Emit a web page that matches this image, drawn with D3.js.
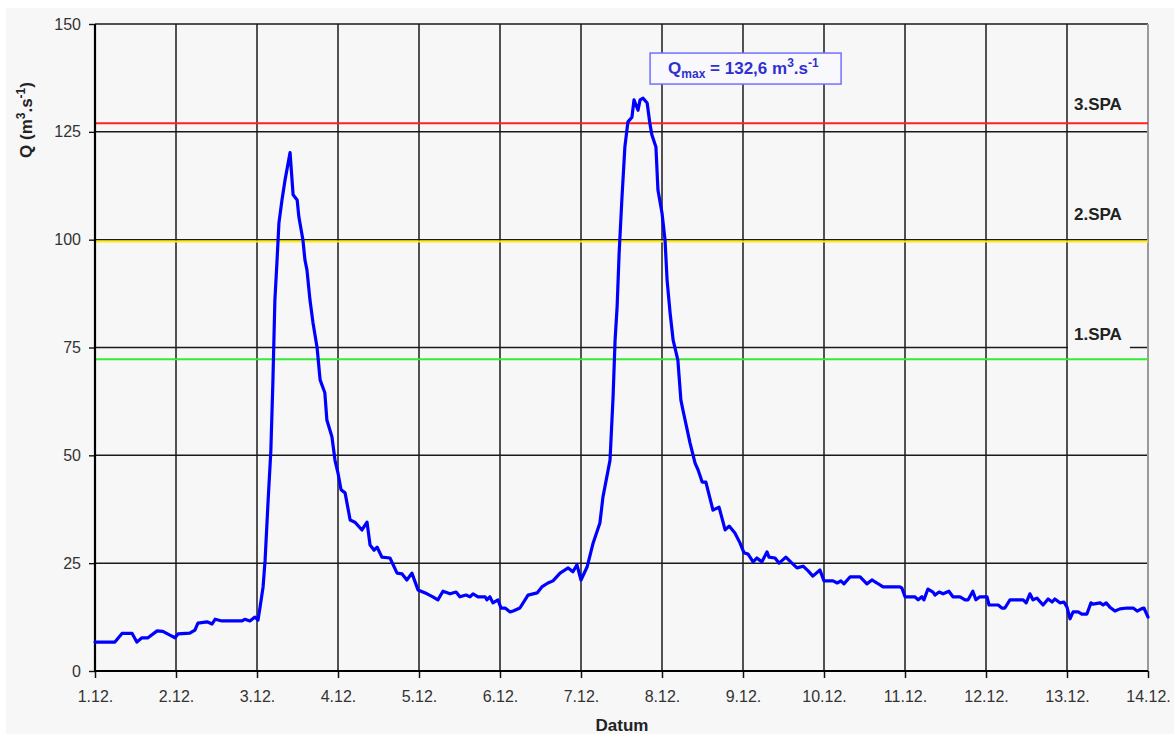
<!DOCTYPE html>
<html><head><meta charset="utf-8">
<script src="https://cdn.jsdelivr.net/npm/d3@7"></script>
<style>
html,body{margin:0;padding:0;background:#fff;}
svg{display:block;font-family:"Liberation Sans",Arial,sans-serif;}
</style></head><body>
<svg id="c" width="1174" height="734"></svg>
<script>
// ---- data ----
const dayLabels = ["1.12.","2.12.","3.12.","4.12.","5.12.","6.12.","7.12.","8.12.","9.12.","10.12.","11.12.","12.12.","13.12.","14.12."];
const yTicks = [0,25,50,75,100,125,150];
// hours since 1.12. 00:00
const hours = [0,5.9,8.0,11.0,12.4,13.9,15.7,18.4,20.1,22.2,23.7,24.6,28.1,29.6,30.5,33.2,34.7,35.6,37.6,39.4,43.6,44.4,45.9,47.4,48.3,48.9,49.8,50.4,51.3,52.1,52.7,53.3,53.9,54.5,55.4,56.3,57.8,58.7,59.9,60.4,61.6,62.2,62.8,63.7,64.6,65.8,66.7,68.1,68.7,70.2,71.1,72.0,72.9,74.1,75.6,77.0,79.1,80.6,81.5,82.7,83.6,85.0,87.4,89.5,91.0,92.4,93.9,95.7,98.4,100.1,101.6,103.1,105.2,107.0,108.1,109.9,111.1,112.0,113.5,115.6,116.1,117.0,117.9,119.4,120.3,121.5,123.0,123.9,125.9,128.3,131.0,132.4,134.2,135.7,137.8,140.2,141.6,142.8,144.0,145.8,147.6,149.6,150.5,152.6,153.5,154.1,154.7,155.3,156.1,157.0,157.9,159.1,159.7,160.9,161.5,162.4,163.6,164.4,165.0,166.2,166.8,168.0,168.9,169.5,170.4,171.3,172.7,173.6,174.2,176.3,177.8,178.7,179.9,181.0,183.1,184.9,186.7,187.9,189.6,191.1,192.3,193.5,195.0,196.1,197.6,199.1,199.7,201.5,202.7,204.7,206.5,208.0,209.8,211.3,212.7,214.8,216.0,218.7,219.9,221.0,221.9,223.7,226.7,228.7,230.2,231.7,233.5,238.5,239.1,240.0,242.9,243.9,245.0,245.6,246.8,248.3,248.9,250.1,251.3,253.0,254.2,256.3,257.8,258.7,260.1,261.0,262.2,264.3,264.9,267.6,268.7,269.6,271.1,275.0,275.9,277.0,277.9,279.1,280.9,282.4,283.6,284.4,285.9,287.1,288.0,288.9,289.8,291.3,292.4,293.9,295.1,295.7,297.8,298.7,299.6,300.7,302.2,303.7,305.8,307.6,308.8,310.0,310.8,312.0];
const discharge = [6.7,6.7,8.7,8.7,6.7,7.7,7.7,9.3,9.2,8.3,7.7,8.6,8.8,9.5,11.1,11.4,10.9,12.0,11.6,11.6,11.6,12.0,11.6,12.5,11.8,14.8,19.5,25.7,39.6,51.0,66.8,86.0,94.6,103.9,109.2,113.8,120.2,110.4,109.2,105.3,100.0,95.3,93.0,86.0,80.7,75.0,67.5,64.5,58.2,54.3,48.9,45.9,42.0,41.3,35.0,34.5,32.7,34.5,29.2,28.0,28.7,26.4,26.2,22.7,22.5,21.1,22.7,18.8,17.9,17.2,16.5,18.5,17.9,18.3,17.2,17.6,17.2,17.9,17.2,17.2,16.5,17.2,15.8,16.5,14.6,14.6,13.7,13.9,14.6,17.6,18.1,19.5,20.4,20.9,22.7,23.9,23.0,24.6,21.1,24.1,29.7,34.3,40.3,48.9,63.5,76.7,84.4,96.9,109.2,121.5,127.3,128.4,132.4,130.0,132.4,132.8,131.7,127.0,124.3,121.5,111.5,106.2,99.9,90.7,83.0,76.7,72.1,62.8,60.5,52.9,48.2,46.6,43.8,43.8,37.3,38.0,32.7,33.6,32.0,29.7,27.4,27.1,25.3,26.2,25.3,27.6,26.4,26.2,25.0,26.4,25.0,23.9,24.3,23.2,22.0,23.4,20.9,20.9,20.4,20.9,20.2,21.8,21.8,20.2,21.1,20.4,19.5,19.5,19.2,17.2,17.2,16.5,17.2,16.5,19.0,18.3,17.6,18.3,17.9,18.5,17.2,17.2,16.5,16.5,18.5,16.5,17.2,17.2,15.3,15.3,14.6,14.6,16.5,16.5,15.8,17.9,16.5,16.9,15.3,16.7,16.0,16.7,15.8,16.0,14.8,12.1,13.7,13.7,13.2,13.2,15.8,15.5,15.8,15.3,15.8,14.8,13.9,14.4,14.6,14.6,13.9,14.4,14.6,12.5];
const spaNames = ["1.SPA","2.SPA","3.SPA"];
const spaLevels = [72.3, 99.6, 127.0];
const spaLabelLevels = [76.8, 104.6, 130.1];
const spaColors = ["#33ee33","#ffee00","#ff2222"];
const qMax = 132.6;
const qMaxHour = 162.4;

// ---- chart ----
const svg = d3.select("#c");
const W = 1174, H = 734;
const L = 95, R = 1148, T = 24, B = 671;

svg.append("rect").attr("x",0).attr("y",0).attr("width",W).attr("height",H).attr("fill","#ffffff");
svg.append("rect").attr("x",6).attr("y",8).attr("width",W-6).attr("height",H-8).attr("fill","#f7f7f7");

const x = d3.scaleLinear().domain([0, 24*(dayLabels.length-1)]).range([L, R]);
const y = d3.scaleLinear().domain([0, 150]).range([B, T]);

const grid = svg.append("g");
grid.selectAll("line.h").data(yTicks.filter(v => v > 0)).enter().append("line")
  .attr("x1", L).attr("x2", R).attr("y1", d => y(d)).attr("y2", d => y(d))
  .attr("stroke", "#1a1a1a").attr("stroke-width", 1.5);
grid.selectAll("line.v").data(d3.range(1, dayLabels.length-1)).enter().append("line")
  .attr("x1", d => x(d*24)).attr("x2", d => x(d*24)).attr("y1", T).attr("y2", B)
  .attr("stroke", "#1a1a1a").attr("stroke-width", 1.5);
svg.append("line").attr("x1", R).attr("x2", R).attr("y1", T).attr("y2", B)
  .attr("stroke", "#9a9a9a").attr("stroke-width", 2);

// SPA lines
svg.selectAll("line.spa").data(spaLevels).enter().append("line")
  .attr("x1", L).attr("x2", R).attr("y1", d => y(d)).attr("y2", d => y(d))
  .attr("stroke", (d,i) => spaColors[i]).attr("stroke-width", 2);

// SPA labels with background
const spaG = svg.append("g");
spaNames.forEach((n,i) => {
  const g = spaG.append("g");
  const bg = g.append("rect").attr("fill","#f7f7f7");
  const t = g.append("text").attr("x", 1074).attr("y", y(spaLabelLevels[i]))
    .attr("font-size", 17).attr("font-weight", "bold").attr("fill", "#222").text(n);
  const bb = t.node().getBBox();
  bg.attr("x", bb.x - 6).attr("y", bb.y).attr("width", bb.width + 14).attr("height", bb.height + 6);
});

// Axes
const yAxis = d3.axisLeft(y).tickValues(yTicks).tickSize(6).tickPadding(8).tickFormat(d3.format("d"));
const gy = svg.append("g").attr("transform", `translate(${L},0)`).call(yAxis);
gy.select(".domain").remove();
gy.selectAll(".tick line").attr("stroke", "#111").attr("stroke-width", 1.4);
gy.selectAll(".tick text").attr("font-size", 16).attr("fill", "#333").attr("font-family", "Liberation Sans, Arial, sans-serif");

const xAxis = d3.axisBottom(x).tickValues(d3.range(0, dayLabels.length).map(i => i*24))
  .tickSize(7).tickPadding(13).tickFormat((d,i) => dayLabels[i]);
const gx = svg.append("g").attr("transform", `translate(0,${B})`).call(xAxis);
gx.select(".domain").remove();
gx.selectAll(".tick line").attr("stroke", "#111").attr("stroke-width", 1.5);
gx.selectAll(".tick text").attr("font-size", 16).attr("fill", "#333").attr("font-family", "Liberation Sans, Arial, sans-serif");

svg.append("line").attr("x1", L).attr("x2", L).attr("y1", T).attr("y2", B+1)
  .attr("stroke", "#000").attr("stroke-width", 2.2);
svg.append("line").attr("x1", L-1).attr("x2", R).attr("y1", B).attr("y2", B)
  .attr("stroke", "#000").attr("stroke-width", 2.2);

// data line
const line = d3.line().x((d,i) => x(hours[i])).y(d => y(d));
svg.append("path").datum(discharge).attr("d", line)
  .attr("fill", "none").attr("stroke", "#0000ff").attr("stroke-width", 3.2)
  .attr("stroke-linejoin", "round").attr("stroke-linecap", "round");

// Axis titles
svg.append("text").attr("x", 622).attr("y", 731).attr("text-anchor", "middle")
  .attr("font-size", 17).attr("font-weight", "bold").attr("fill", "#222").text("Datum");

const yt = svg.append("text").attr("transform", "translate(32,120) rotate(-90)")
  .attr("text-anchor", "middle").attr("font-size", 17).attr("font-weight", "bold").attr("fill", "#222");
yt.append("tspan").text("Q (m");
yt.append("tspan").attr("dy", -7).attr("font-size", 12).text("3");
yt.append("tspan").attr("dy", 7).text(".s");
yt.append("tspan").attr("dy", -7).attr("font-size", 12).text("-1");
yt.append("tspan").attr("dy", 7).text(")");

// Qmax annotation
const ax = x(qMaxHour) + 7, ay = y(qMax) - 46;
const ann = svg.append("g");
ann.append("rect").attr("x", ax).attr("y", ay).attr("width", 191).attr("height", 31)
  .attr("fill", "#f9f9fd").attr("stroke", "#7070ff").attr("stroke-width", 1.5);
const at = ann.append("text").attr("x", ax + 18).attr("y", ay + 21)
  .attr("font-size", 17).attr("font-weight", "bold").attr("fill", "#3030d0");
at.append("tspan").text("Q");
at.append("tspan").attr("dy", 4).attr("font-size", 12).text("max");
at.append("tspan").attr("dy", -4).text(" = " + String(qMax).replace(".", ",") + " m");
at.append("tspan").attr("dy", -7).attr("font-size", 12).text("3");
at.append("tspan").attr("dy", 7).text(".s");
at.append("tspan").attr("dy", -7).attr("font-size", 12).text("-1");
</script>
</body></html>
